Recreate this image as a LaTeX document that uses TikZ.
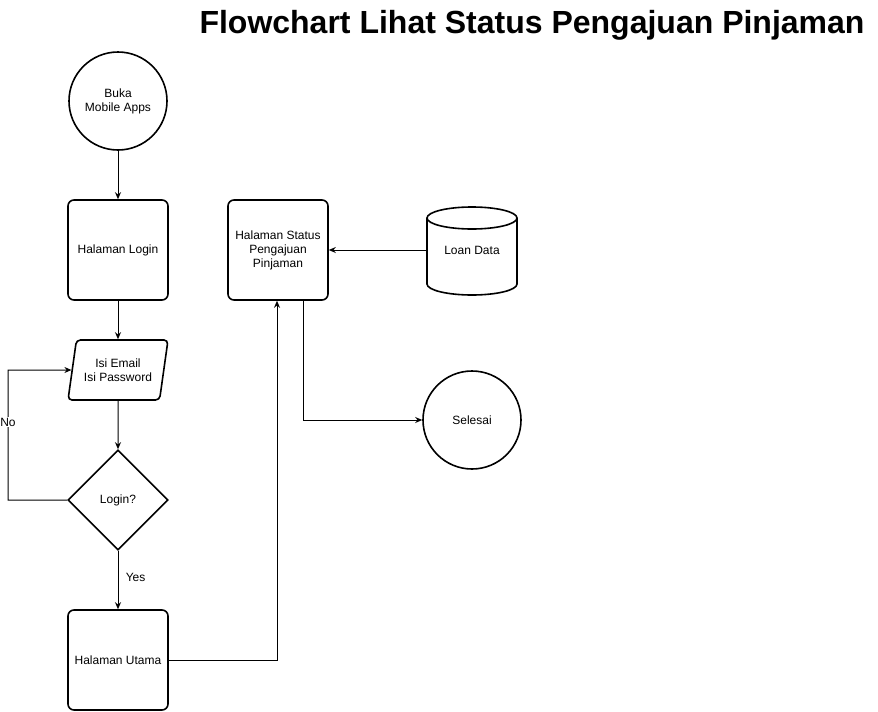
\documentclass[tikz,border=0pt]{standalone}
\usepackage{fontspec}
\setmainfont{Liberation Sans}
\usepackage{tikz}
\usetikzlibrary{shapes.geometric,arrows.meta,positioning}

\begin{document}
\begin{tikzpicture}[x=1pt,y=-1pt,
    every node/.style={font=\fontsize{12}{14}\selectfont, align=center},
    box/.style={draw, line width=1.6pt, rounded corners=6pt,
      minimum width=100pt, minimum height=100pt},
    terminal/.style={draw, circle, line width=1.6pt, minimum size=98pt},
    inputbox/.style={draw, trapezium, trapezium left angle=74,
      trapezium right angle=106, trapezium stretches body,
      rounded corners=4pt, line width=1.6pt,
      minimum width=100pt, minimum height=60pt, inner xsep=0pt},
    decision/.style={draw, diamond, line width=1.6pt, minimum size=100pt,
      inner sep=0pt},
    database/.style={minimum width=90pt, minimum height=88pt},
    line/.style={draw, line width=1pt, -{Stealth[length=7pt,width=6pt]}}]
  \useasboundingbox (0,0) rectangle (878,712);

  \node[font=\bfseries\fontsize{32}{36}\selectfont] (title) at (532,25)
    {Flowchart Lihat Status Pengajuan Pinjaman};

  % left column
  \node[terminal] (start) at (118,101) {Buka\\Mobile Apps};
  \node[box] (login) at (118,250) {Halaman Login};
  \node[inputbox] (input) at (118,370) {Isi Email\\Isi Password};
  \node[decision] (check) at (118,500) {Login?};
  \node[box] (home) at (118,660) {Halaman Utama};

  % right part
  \node[box] (status) at (278,250) {Halaman Status\\Pengajuan\\Pinjaman};
  \node[database] (loan) at (472,250) {Loan Data};
  \node[terminal] (finish) at (472,420) {Selesai};

  % cylinder outline
  \draw[line width=1.6pt] (427,218) -- (427,284)
    arc[start angle=180, end angle=360, x radius=45pt, y radius=11pt]
    -- (517,218);
  \draw[line width=1.6pt] (472,218) ellipse [x radius=45pt, y radius=11pt];

  \coordinate (noleft) at (8,500);
  \coordinate (noup) at (8,370);

  \draw[line] (start) -- (login);
  \draw[line] (login) -- (input);
  \draw[line] (input) -- (check);
  \draw[line] (check) -- node[right=4pt, pos=0.45] {Yes} (home);
  \draw[line] (check.west) -- (noleft) -- node[fill=white, inner sep=1pt, pos=0.6] {No} (noup) -- (input.west);
  \draw[line] (home.east) -| ([xshift=-1pt]status.south);
  \draw[line] (loan.west) -- (status.east);
  \draw[line] ([xshift=25pt]status.south) |- (finish.west);
\end{tikzpicture}
\end{document}
